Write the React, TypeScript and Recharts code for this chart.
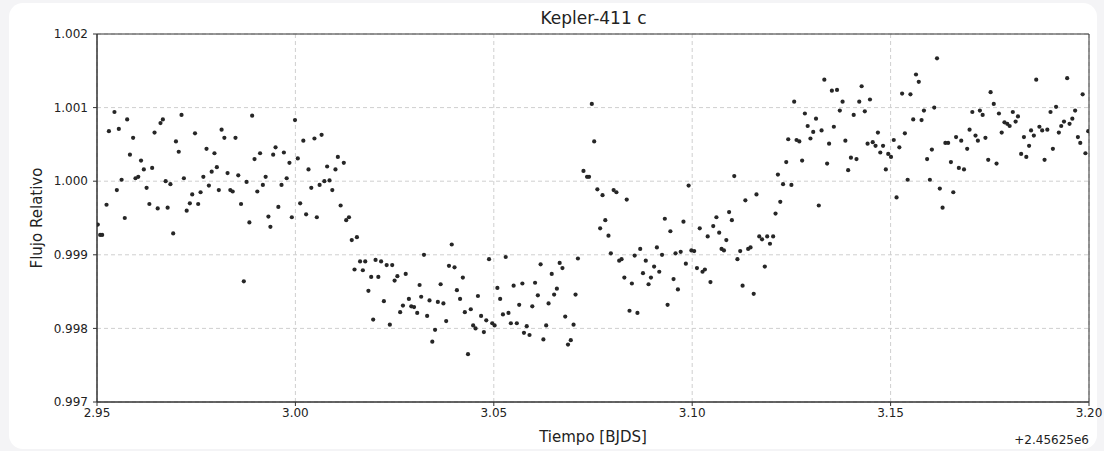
import React from 'react';
import { ScatterChart, Scatter, XAxis, YAxis, CartesianGrid, ReferenceArea } from 'recharts';

const antesTransito: [number, number][] = [
  [2.9502, 0.99941], [2.9508, 0.99927], [2.9513, 0.99927], [2.9524, 0.99968], [2.953, 1.00068], [2.9544, 1.00094],
  [2.955, 0.99988], [2.9555, 1.00071], [2.9562, 1.00002], [2.957, 0.9995], [2.9576, 1.00084], [2.9583, 1.00036],
  [2.9591, 1.00059], [2.9597, 1.00004], [2.9604, 1.00006], [2.9611, 1.00028], [2.9618, 1.00016], [2.9625, 0.99991],
  [2.9632, 0.99969], [2.9639, 1.00018], [2.9645, 1.00066], [2.9653, 0.99963], [2.966, 1.00079], [2.9666, 1.00084],
  [2.9673, 1.0], [2.9678, 0.99964], [2.9685, 0.99996], [2.9692, 0.99929], [2.9699, 1.00054], [2.9706, 1.0004],
  [2.9713, 1.0009], [2.9719, 1.00004], [2.9726, 0.9996], [2.9734, 0.9997], [2.974, 0.99982], [2.9747, 1.00065],
  [2.9755, 0.99969], [2.9761, 0.99985], [2.9768, 1.00006], [2.9776, 1.00044], [2.9782, 0.99994], [2.9789, 1.00013],
  [2.9796, 1.00038], [2.9802, 1.00019], [2.9807, 0.99988], [2.9814, 1.0007], [2.9821, 1.00059], [2.9829, 1.00011],
  [2.9836, 0.99988], [2.9842, 0.99986], [2.9849, 1.00059], [2.9856, 1.00008], [2.9863, 0.99969], [2.987, 0.99864],
  [2.9877, 0.99999], [2.9884, 0.99944], [2.9891, 1.00089], [2.9897, 1.0003], [2.9904, 0.99986], [2.9911, 1.00038],
  [2.9918, 0.99995], [2.9925, 1.00006], [2.9932, 0.99952], [2.9937, 0.99938], [2.9944, 1.00036], [2.995, 1.00046],
  [2.9957, 0.99965], [2.9965, 0.99995], [2.9971, 1.00039], [2.9978, 1.00004], [2.9985, 1.00025], [2.9991, 0.99951],
  [2.9999, 1.00083], [3.0006, 1.00031], [3.0012, 0.9997], [3.002, 1.00055], [3.0027, 0.99955], [3.0033, 1.00016],
  [3.004, 0.99991], [3.0048, 1.00058], [3.0054, 0.99951], [3.0061, 0.99995], [3.0066, 1.00063], [3.0073, 1.0],
  [3.008, 1.0002], [3.0086, 1.00001], [3.0093, 0.99988], [3.0101, 1.00016], [3.0107, 1.00033], [3.0114, 0.99967],
];

const transito: [number, number][] = [
  [3.0122, 1.00025], [3.0128, 0.99947], [3.0135, 0.99951], [3.0142, 0.9992], [3.0149, 0.9988], [3.0155, 0.99924],
  [3.0163, 0.99891], [3.017, 0.99879], [3.0176, 0.99891], [3.0184, 0.99851], [3.0191, 0.9987], [3.0196, 0.99812],
  [3.0202, 0.99893], [3.0209, 0.9987], [3.0216, 0.99891], [3.0223, 0.99837], [3.023, 0.99886], [3.0238, 0.99805],
  [3.0244, 0.99886], [3.025, 0.99865], [3.0257, 0.99871], [3.0264, 0.99822], [3.0271, 0.99831], [3.0278, 0.99874],
  [3.0286, 0.9984], [3.0292, 0.9983], [3.0299, 0.99829], [3.0307, 0.99821], [3.0313, 0.99859], [3.0317, 0.99843],
  [3.0324, 0.999], [3.0332, 0.99817], [3.0338, 0.99838], [3.0345, 0.99782], [3.0352, 0.99798], [3.0359, 0.99836],
  [3.0366, 0.9986], [3.0373, 0.99834], [3.038, 0.9981], [3.0387, 0.99885], [3.0394, 0.99914], [3.0401, 0.99883],
  [3.0407, 0.99852], [3.0415, 0.9984], [3.0422, 0.99869], [3.0427, 0.99822], [3.0435, 0.99765], [3.0442, 0.99826],
  [3.0448, 0.99804], [3.0454, 0.998], [3.046, 0.99844], [3.0468, 0.99817], [3.0475, 0.99795], [3.0481, 0.99811],
  [3.0488, 0.99894], [3.0496, 0.99807], [3.0502, 0.99804], [3.0509, 0.99855], [3.0516, 0.9984], [3.0523, 0.99819],
  [3.053, 0.99897], [3.0537, 0.99821], [3.0543, 0.99807], [3.055, 0.99858], [3.0558, 0.99807], [3.0564, 0.99832],
  [3.0572, 0.99861], [3.0576, 0.99794], [3.0583, 0.99803], [3.059, 0.99791], [3.0597, 0.9983], [3.0604, 0.99862],
  [3.0611, 0.99845], [3.0618, 0.99887], [3.0625, 0.99785], [3.0632, 0.99804], [3.0638, 0.99834], [3.0646, 0.99874],
  [3.0652, 0.99846], [3.0659, 0.99854], [3.0666, 0.99889], [3.0673, 0.99882], [3.068, 0.99816], [3.0687, 0.99778],
  [3.0694, 0.99784], [3.0701, 0.99805], [3.0706, 0.99846], [3.0712, 0.99895],
];

const egreso: [number, number][] = [
  [3.0726, 1.00014], [3.0735, 1.00006], [3.074, 1.00006], [3.0747, 1.00105], [3.0753, 1.00054], [3.0761, 0.99989],
  [3.0768, 0.99936], [3.0774, 0.99981], [3.0781, 0.99947], [3.0789, 0.99926], [3.0795, 0.99902], [3.0802, 0.99988],
  [3.0809, 0.99985], [3.0816, 0.99892], [3.0822, 0.99894], [3.0829, 0.99869], [3.0835, 0.99975], [3.0842, 0.99824],
  [3.0848, 0.99861], [3.0855, 0.99899], [3.0862, 0.99821], [3.0869, 0.99908], [3.0876, 0.99875], [3.0883, 0.99892],
  [3.089, 0.9986], [3.0896, 0.99869], [3.0904, 0.99884], [3.0911, 0.9991], [3.0917, 0.99877], [3.0924, 0.999],
  [3.0931, 0.99949], [3.0938, 0.99832], [3.0945, 0.99932], [3.0953, 0.99867], [3.0958, 0.99902], [3.0964, 0.99853],
  [3.0971, 0.99904], [3.0978, 0.99945], [3.0984, 0.99888], [3.0991, 0.99994], [3.0998, 0.99906], [3.1005, 0.99905],
  [3.1012, 0.99882], [3.1019, 0.99936], [3.1026, 0.99877], [3.1032, 0.9988], [3.1039, 0.99925], [3.1046, 0.99863],
  [3.1053, 0.99939], [3.1061, 0.99951], [3.1068, 0.9993], [3.1074, 0.99908], [3.108, 0.99906], [3.1086, 0.9992],
  [3.1093, 0.99958], [3.11, 0.99947], [3.1106, 1.00007], [3.1114, 0.99894], [3.1121, 0.99905], [3.1127, 0.99858],
  [3.1134, 0.99974], [3.1141, 0.99908], [3.1147, 0.9991], [3.1155, 0.99847], [3.1162, 0.99982], [3.1169, 0.99925],
  [3.1176, 0.99921], [3.1183, 0.99884], [3.1189, 0.99925], [3.1196, 0.99915], [3.1204, 0.99925], [3.121, 0.99956],
  [3.1216, 1.00009], [3.1222, 0.99972], [3.1229, 0.99996], [3.1237, 1.00026], [3.1242, 1.00057], [3.125, 0.99995],
];

const despuesTransito: [number, number][] = [
  [3.1257, 1.00108], [3.1263, 1.00056], [3.127, 1.00054], [3.1277, 1.00028], [3.1284, 1.00092], [3.1291, 1.00075],
  [3.1298, 1.00058], [3.1305, 1.00067], [3.1312, 1.00085], [3.1319, 0.99967], [3.1326, 1.00069], [3.1333, 1.00138],
  [3.134, 1.00024], [3.1345, 1.00051], [3.1352, 1.00123], [3.1357, 1.00074], [3.1365, 1.00124], [3.1372, 1.00096],
  [3.1379, 1.00108], [3.1386, 1.00055], [3.1393, 1.00015], [3.14, 1.00032], [3.1407, 1.0009], [3.1414, 1.0003],
  [3.1421, 1.00108], [3.1427, 1.00129], [3.1435, 1.00095], [3.1442, 1.00051], [3.1448, 1.00111], [3.1455, 1.00053],
  [3.1462, 1.00048], [3.1468, 1.00066], [3.1474, 1.00039], [3.1481, 1.00048], [3.1488, 1.00016], [3.1494, 1.00037],
  [3.1501, 1.00033], [3.1508, 1.00056], [3.1515, 0.99978], [3.1522, 1.00046], [3.1529, 1.00119], [3.1536, 1.00065],
  [3.1543, 1.00002], [3.155, 1.00118], [3.1557, 1.00084], [3.1564, 1.00145], [3.1571, 1.00135], [3.1578, 1.00083],
  [3.1584, 1.00096], [3.1592, 1.0003], [3.1599, 1.00002], [3.1604, 1.00043], [3.161, 1.001], [3.1617, 1.00167],
  [3.1624, 0.9999], [3.1631, 0.99964], [3.1638, 1.00052], [3.1645, 1.00052], [3.1652, 1.00026], [3.1658, 0.99985],
  [3.1665, 1.0006], [3.1672, 1.00018], [3.1678, 1.00055], [3.1685, 1.00016], [3.1693, 1.00044], [3.1699, 1.0007],
  [3.1706, 1.00094], [3.1714, 1.00062], [3.172, 1.00055], [3.1725, 1.00096], [3.1732, 1.0009], [3.1739, 1.00059],
  [3.1746, 1.00029], [3.1752, 1.00121], [3.176, 1.00105], [3.1767, 1.00024], [3.1773, 1.00092], [3.178, 1.00066],
  [3.1787, 1.0008], [3.1794, 1.00078], [3.18, 1.00075], [3.1808, 1.00094], [3.1815, 1.00081], [3.1821, 1.00088],
  [3.1829, 1.00037], [3.1836, 1.0006], [3.1842, 1.00033], [3.1849, 1.00048], [3.1854, 1.00069], [3.1861, 1.00062],
  [3.1867, 1.00138], [3.1875, 1.00074], [3.1882, 1.00069], [3.1888, 1.00029], [3.1895, 1.0007], [3.1903, 1.00094],
  [3.1909, 1.00044], [3.1917, 1.00101], [3.1924, 1.00066], [3.193, 1.00075], [3.1937, 1.00081], [3.1945, 1.0014],
  [3.1951, 1.00078], [3.1958, 1.00085], [3.1965, 1.00096], [3.1972, 1.0006], [3.1978, 1.00052], [3.1984, 1.00118],
  [3.1991, 1.00038], [3.1998, 1.00068],
];

const xTicks = [2.95, 3.0, 3.05, 3.1, 3.15, 3.2];
const yTicks = [0.997, 0.998, 0.999, 1.0, 1.001, 1.002];

const FONT = '"DejaVu Sans", sans-serif';

const puntos = [...antesTransito, ...transito, ...egreso, ...despuesTransito].map(([t, f]) => ({ t, f }));

const Punto = (props: any) => <circle cx={props.cx} cy={props.cy} r={2.1} fill="#262626" />;

export default function App() {
  return (
    <div style={{ position: 'relative', width: 1104, height: 451, background: '#f4f4f6', fontFamily: FONT }}>
      <style>{'body{margin:0}'}</style>
      <div style={{ position: 'absolute', left: 9, top: 3, width: 1088, height: 446, background: '#fff', borderRadius: 14 }} />
      <div style={{ position: 'absolute', left: 97, top: 7, width: 993, textAlign: 'center', fontSize: 17, lineHeight: '22px', color: '#222' }}>
        Kepler-411 c
      </div>
      <div style={{ position: 'absolute', left: 37, top: 218, transform: 'translate(-50%, -50%) rotate(-90deg)', whiteSpace: 'nowrap', fontSize: 15, color: '#222' }}>
        Flujo Relativo
      </div>
      <div style={{ position: 'absolute', left: 593, top: 437, transform: 'translate(-50%, -50%)', whiteSpace: 'nowrap', fontSize: 15, color: '#222' }}>
        Tiempo [BJDS]
      </div>
      <div style={{ position: 'absolute', right: 15, top: 440, transform: 'translateY(-50%)', whiteSpace: 'nowrap', fontSize: 12, color: '#222' }}>
        +2.45625e6
      </div>
      <div style={{ position: 'absolute', left: 0, top: 0 }}>
        <ScatterChart width={1104} height={451} margin={{ top: 34, right: 15, bottom: 0, left: 0 }}>
          <CartesianGrid stroke="#cfcfcf" strokeDasharray="4 3" />
          <XAxis
            type="number"
            dataKey="t"
            domain={[2.95, 3.2]}
            ticks={xTicks}
            allowDataOverflow
            height={49}
            tickSize={4}
            tickMargin={2}
            tickFormatter={(v: number) => v.toFixed(2)}
            tick={{ fontSize: 12, fill: '#222', fontFamily: FONT }}
            axisLine={{ stroke: '#333' }}
            tickLine={{ stroke: '#333' }}
          />
          <YAxis
            type="number"
            dataKey="f"
            domain={[0.997, 1.002]}
            ticks={yTicks}
            allowDataOverflow
            width={97}
            tickSize={4}
            tickMargin={5}
            tickFormatter={(v: number) => v.toFixed(3)}
            tick={{ fontSize: 12, fill: '#222', fontFamily: FONT }}
            axisLine={{ stroke: '#333' }}
            tickLine={{ stroke: '#333' }}
          />
          <ReferenceArea x1={2.95} x2={3.2} y1={0.997} y2={1.002} fill="none" stroke="#333" strokeWidth={1} />
          <Scatter data={puntos} shape={Punto} isAnimationActive={false} />
        </ScatterChart>
      </div>
    </div>
  );
}
